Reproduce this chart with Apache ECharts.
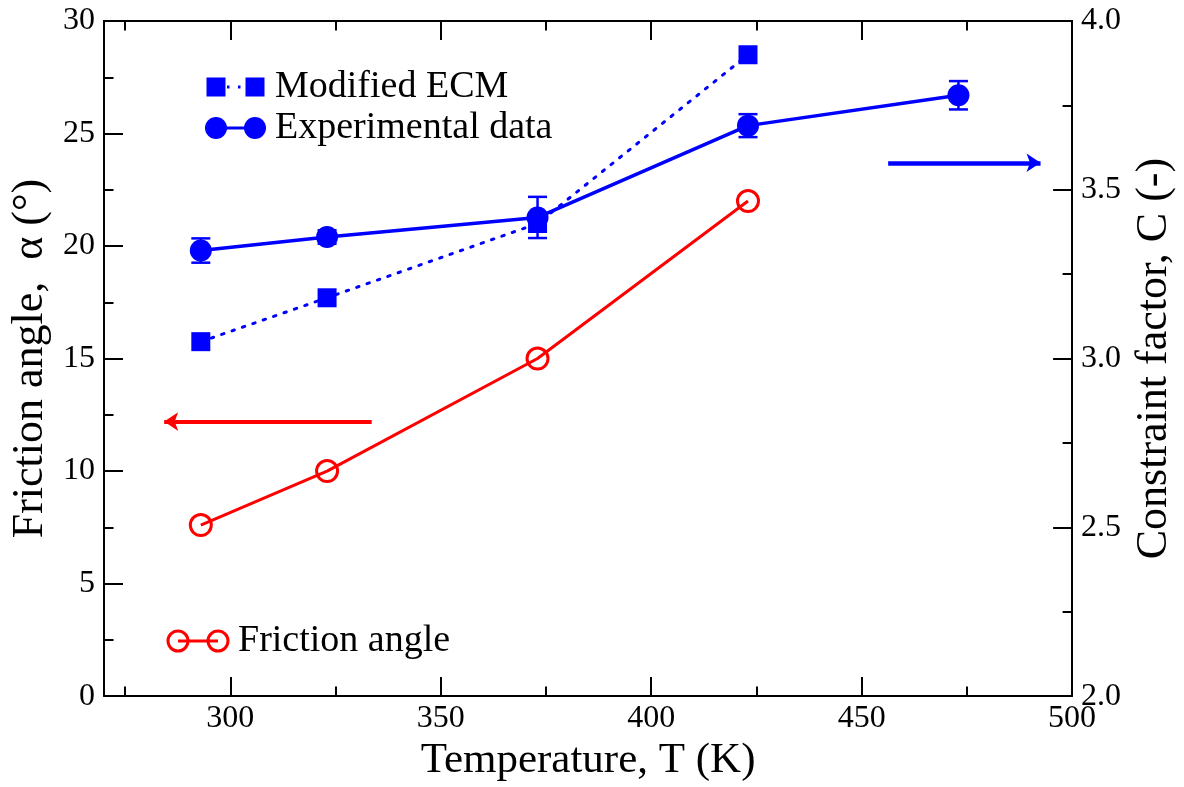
<!DOCTYPE html>
<html>
<head>
<meta charset="utf-8">
<script src="https://cdn.jsdelivr.net/npm/echarts@6/dist/echarts.min.js"></script>
<style>html,body{margin:0;padding:0;background:#fff}#c{width:1184px;height:787px}</style>
</head>
<body>
<div id="c"></div>
<script>
// ---- data ----
const temps = [293, 323, 373, 423, 473];
const frictionAngle = [7.6, 10.0, 15.0, 22.0];            // left axis (deg)
const expConstraint = [3.32, 3.36, 3.418, 3.69, 3.78];     // right axis
const expError = [0.036, 0.02, 0.061, 0.034, 0.042];
const ecmConstraint = [3.05, 3.18, 3.40, 3.90];            // right axis
const xMajorTicks = [300, 350, 400, 450, 500];
const xMinorTicks = [275, 325, 375, 425, 475];
const arrowLeft = [[333.6, 12.2], [284.3, 12.2]];          // left-axis units
const arrowRight = [[456.3, 3.58], [492.5, 3.58]];         // right-axis units

const FONT = 'Liberation Serif';
const BLUE = '#0000ff', RED = '#ff0000';
const chart = echarts.init(document.getElementById('c'));

const pairs = (xs, ys) => ys.map((v, i) => [xs[i], v]);
const errData = expConstraint.map((v, i) => [temps[i], v, expError[i]]);

const baseX = (pos, ticks, len, labels, showLine) => ({
  type: 'value', position: pos, min: 270, max: 500,
  axisLine: { show: showLine, onZero: false, lineStyle: { color: '#000', width: 2 } },
  axisTick: { show: true, inside: true, length: len, customValues: ticks, lineStyle: { color: '#000', width: 2 } },
  axisLabel: labels ? { show: true, customValues: ticks, margin: 6, color: '#000', fontFamily: FONT, fontSize: 32 } : { show: false },
  splitLine: { show: false }
});

const option = {
  animation: false,
  backgroundColor: '#fff',
  grid: { left: 104, right: 101, top: 21, bottom: 80, containLabel: false },
  xAxis: [
    Object.assign(baseX('bottom', xMajorTicks, 19, true, true), {
      name: 'Temperature, T (K)', nameLocation: 'middle', nameGap: 36,
      nameTextStyle: { color: '#000', fontFamily: FONT, fontSize: 43 }
    }),
    baseX('bottom', xMinorTicks, 9.5, false, false),
    baseX('top', xMajorTicks, 19, false, true),
    baseX('top', xMinorTicks, 9.5, false, false)
  ],
  yAxis: [
    {
      type: 'value', position: 'left', min: 0, max: 30, interval: 5,
      name: 'Friction angle,  \u03b1 (\u00b0)', nameLocation: 'middle', nameGap: 52, nameRotate: 90,
      nameTextStyle: { color: '#000', fontFamily: FONT, fontSize: 44 },
      axisLine: { show: true, lineStyle: { color: '#000', width: 2 } },
      axisTick: { show: true, inside: true, length: 19, lineStyle: { color: '#000', width: 2 } },
      minorTick: { show: true, splitNumber: 2, length: 9.5, lineStyle: { color: '#000', width: 2 } },
      axisLabel: { margin: 9, color: '#000', fontFamily: FONT, fontSize: 32 },
      splitLine: { show: false }
    },
    {
      type: 'value', position: 'right', min: 2.0, max: 4.0, interval: 0.5,
      name: 'Constraint factor, C (-)', nameLocation: 'middle', nameGap: 58, nameRotate: 90,
      nameTextStyle: { color: '#000', fontFamily: FONT, fontSize: 44 },
      axisLine: { show: true, lineStyle: { color: '#000', width: 2 } },
      axisTick: { show: true, inside: true, length: 19, lineStyle: { color: '#000', width: 2 } },
      minorTick: { show: true, splitNumber: 2, length: 9.5, lineStyle: { color: '#000', width: 2 } },
      axisLabel: { margin: 9, color: '#000', fontFamily: FONT, fontSize: 32, formatter: v => v.toFixed(1) },
      splitLine: { show: false }
    }
  ],
  series: [
    {
      name: 'Friction angle', type: 'line', xAxisIndex: 0, yAxisIndex: 0,
      data: pairs(temps, frictionAngle),
      symbol: 'circle', symbolSize: 21,
      lineStyle: { color: RED, width: 3 },
      itemStyle: { color: 'rgba(0,0,0,0)', borderColor: RED, borderWidth: 3 },
      emphasis: { disabled: true }, z: 3,
      markLine: {
        silent: true, symbol: ['none', 'arrow'], symbolSize: 14,
        label: { show: false },
        lineStyle: { color: RED, width: 4, type: 'solid' },
        data: [[{ coord: arrowLeft[0] }, { coord: arrowLeft[1] }]]
      }
    },
    {
      name: 'Modified ECM', type: 'line', xAxisIndex: 0, yAxisIndex: 1,
      data: pairs(temps, ecmConstraint),
      symbol: 'rect', symbolSize: 19,
      lineStyle: { color: BLUE, width: 3, type: [2.5, 8.5], cap: 'round' },
      itemStyle: { color: BLUE },
      emphasis: { disabled: true }, z: 4
    },
    {
      name: 'err', type: 'custom', xAxisIndex: 0, yAxisIndex: 1,
      data: errData, z: 5, silent: true,
      renderItem: function (params, api) {
        const x = api.value(0), y = api.value(1), e = api.value(2);
        const t = api.coord([x, y + e]), b = api.coord([x, y - e]);
        const hw = 9.5, st = { stroke: BLUE, lineWidth: 2.5 };
        return {
          type: 'group', children: [
            { type: 'line', shape: { x1: t[0], y1: t[1], x2: b[0], y2: b[1] }, style: st },
            { type: 'line', shape: { x1: t[0] - hw, y1: t[1], x2: t[0] + hw, y2: t[1] }, style: st },
            { type: 'line', shape: { x1: b[0] - hw, y1: b[1], x2: b[0] + hw, y2: b[1] }, style: st }
          ]
        };
      }
    },
    {
      name: 'Experimental data', type: 'line', xAxisIndex: 0, yAxisIndex: 1,
      data: pairs(temps, expConstraint),
      symbol: 'circle', symbolSize: 22,
      lineStyle: { color: BLUE, width: 3.5 },
      itemStyle: { color: BLUE },
      emphasis: { disabled: true }, z: 6,
      markLine: {
        silent: true, symbol: ['none', 'arrow'], symbolSize: 14,
        label: { show: false },
        lineStyle: { color: BLUE, width: 4.5, type: 'solid' },
        data: [[{ coord: arrowRight[0] }, { coord: arrowRight[1] }]]
      }
    }
  ],
  graphic: [
    // Modified ECM legend
    { type: 'line', shape: { x1: 216, y1: 87, x2: 255, y2: 87 }, style: { stroke: BLUE, lineWidth: 3, lineDash: [2.5, 8.5] } },
    { type: 'rect', shape: { x: 206.5, y: 77.5, width: 19, height: 19 }, style: { fill: BLUE } },
    { type: 'rect', shape: { x: 245.5, y: 77.5, width: 19, height: 19 }, style: { fill: BLUE } },
    { type: 'text', left: 275, top: 68, style: { text: 'Modified ECM', font: '38px "Liberation Serif"', fill: '#000' } },
    // Experimental legend
    { type: 'line', shape: { x1: 216, y1: 128, x2: 255, y2: 128 }, style: { stroke: BLUE, lineWidth: 3 } },
    { type: 'circle', shape: { cx: 216, cy: 128, r: 11 }, style: { fill: BLUE } },
    { type: 'circle', shape: { cx: 255, cy: 128, r: 11 }, style: { fill: BLUE } },
    { type: 'text', left: 275, top: 109, style: { text: 'Experimental data', font: '38px "Liberation Serif"', fill: '#000' } },
    // Friction angle legend
    { type: 'line', shape: { x1: 178, y1: 641, x2: 218, y2: 641 }, style: { stroke: RED, lineWidth: 3 } },
    { type: 'circle', shape: { cx: 178, cy: 641, r: 10 }, style: { fill: 'none', stroke: RED, lineWidth: 3 } },
    { type: 'circle', shape: { cx: 218, cy: 641, r: 10 }, style: { fill: 'none', stroke: RED, lineWidth: 3 } },
    { type: 'text', left: 238, top: 622, style: { text: 'Friction angle', font: '38px "Liberation Serif"', fill: '#000' } }
  ]
};
chart.setOption(option);
</script>
</body>
</html>
